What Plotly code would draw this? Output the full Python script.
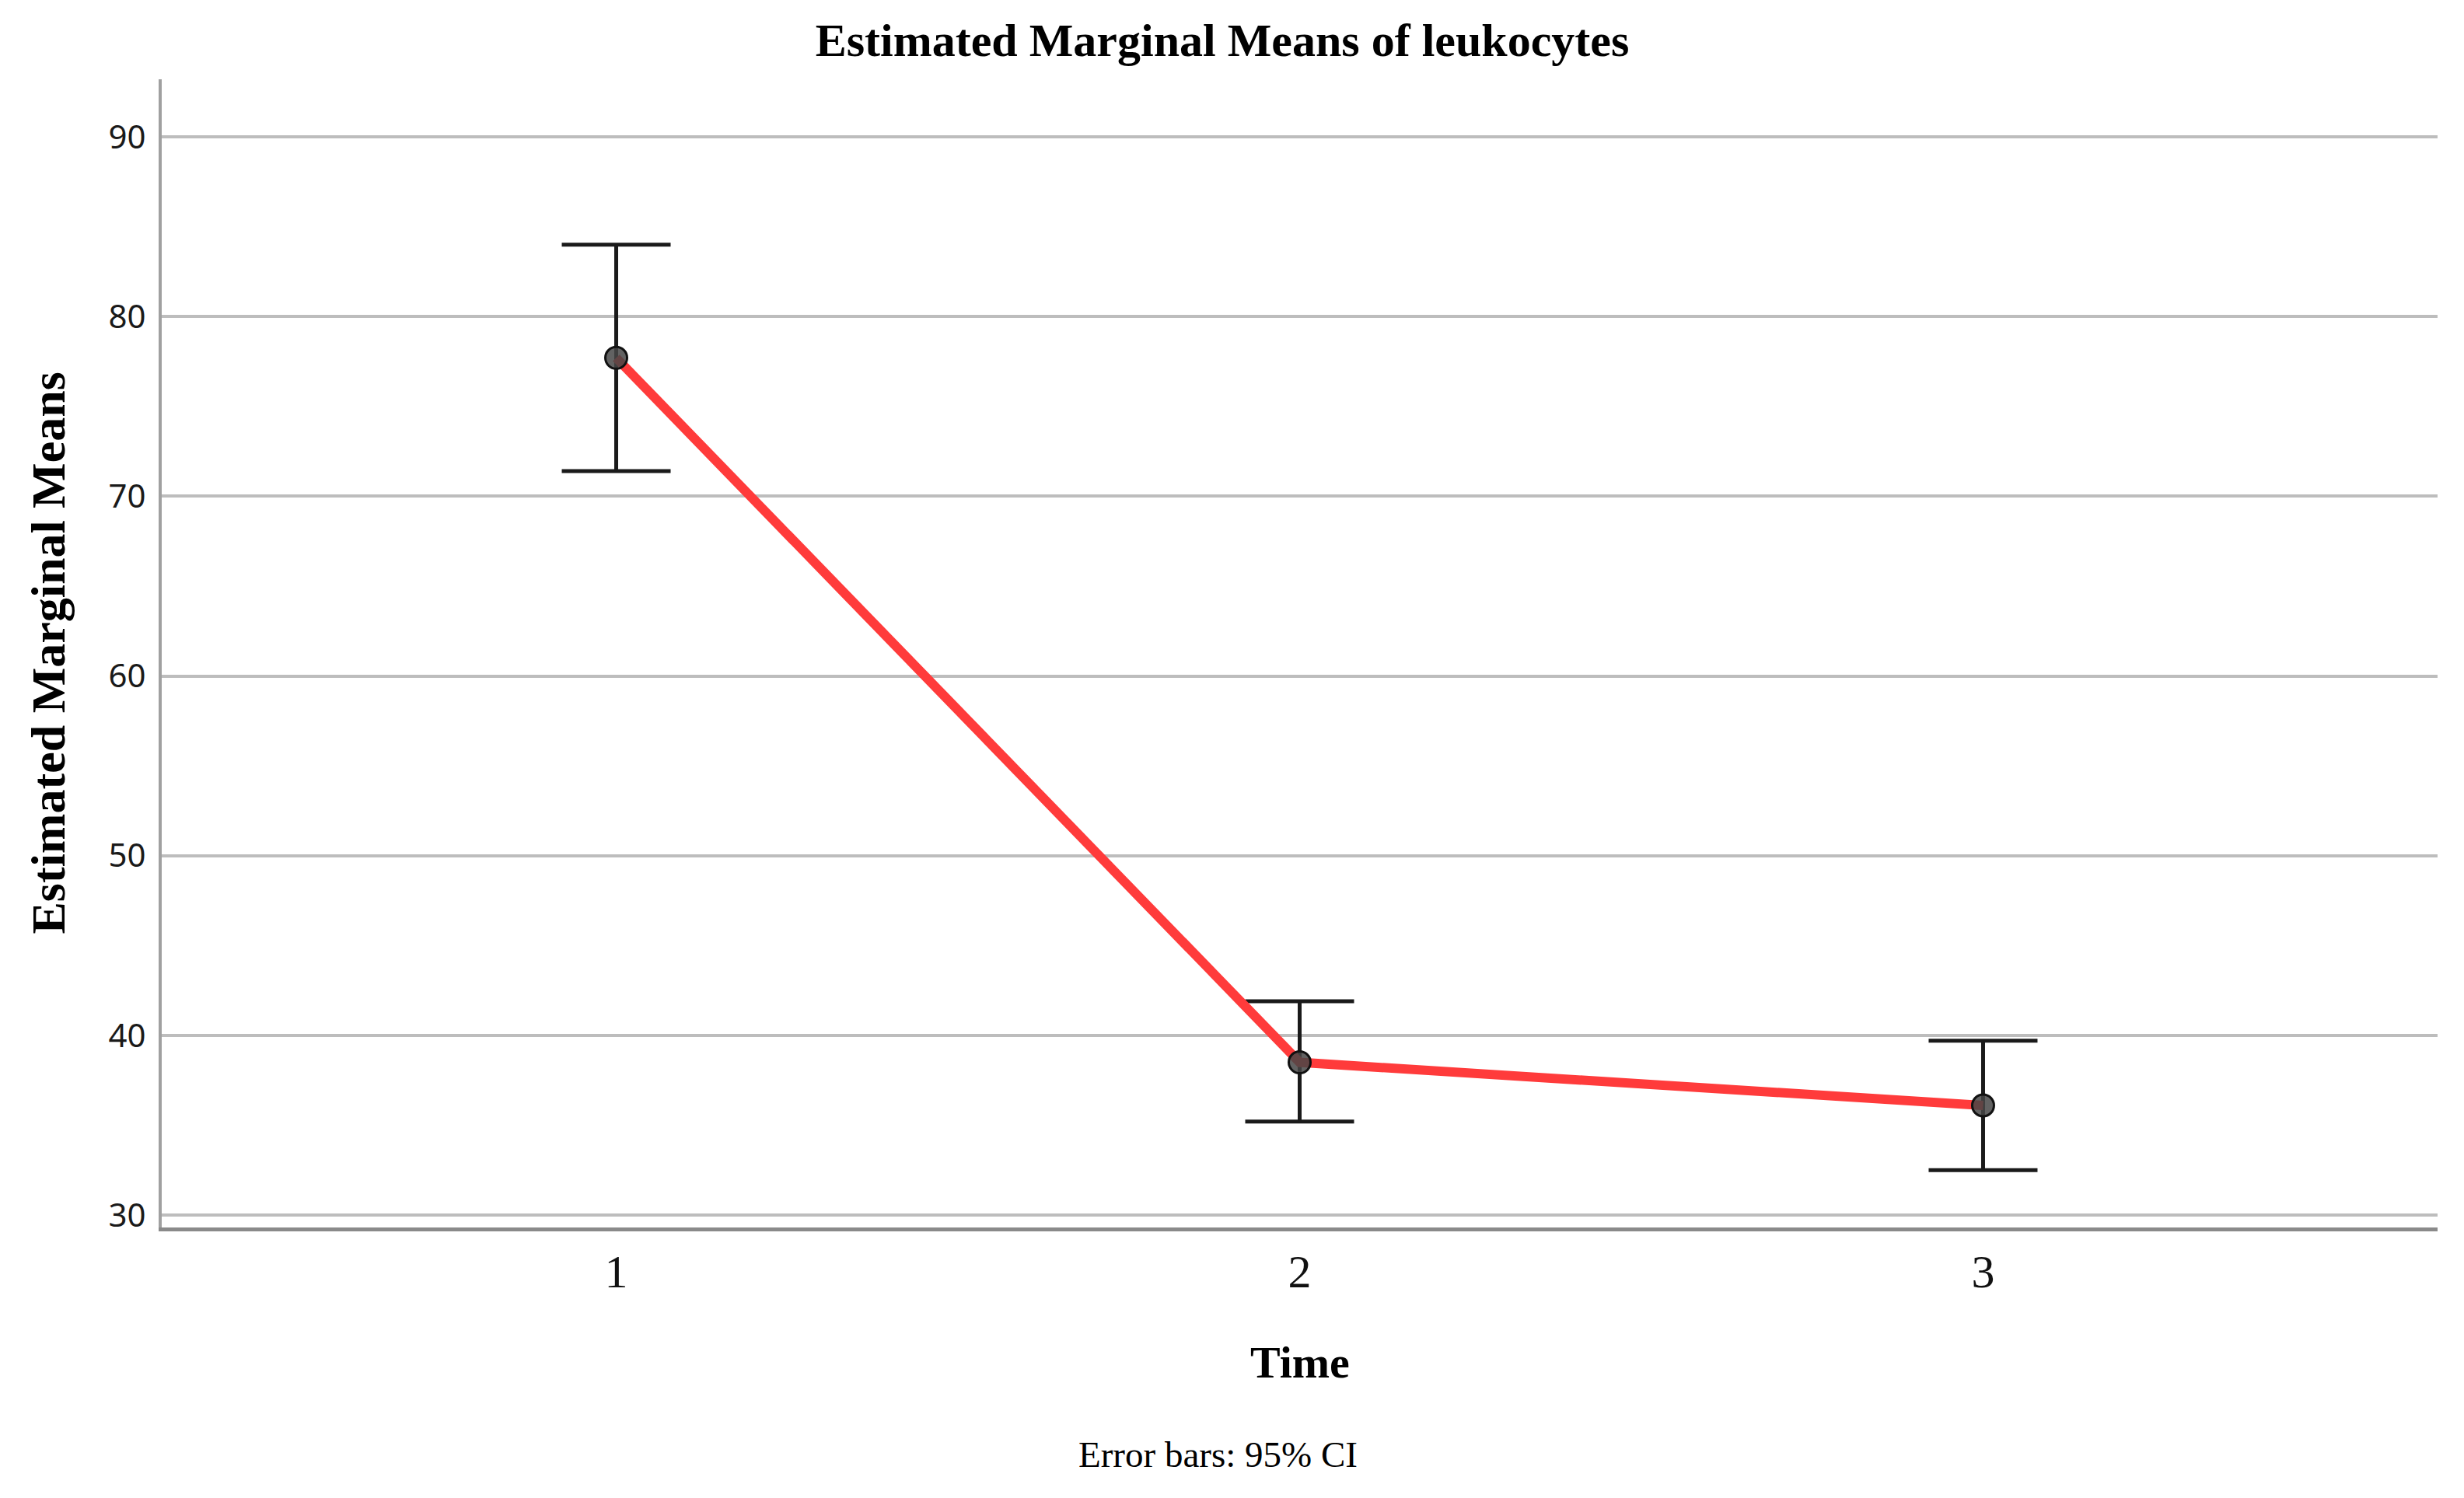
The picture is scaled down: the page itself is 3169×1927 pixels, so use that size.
import plotly.graph_objects as go

# Data
time_points = [1, 2, 3]
tick_labels = ["1", "2", "3"]
means = [77.7, 38.5, 36.1]
ci_upper = [84.0, 41.9, 39.7]
ci_lower = [71.4, 35.2, 32.5]

err_plus = [u - m for u, m in zip(ci_upper, means)]
err_minus = [m - l for m, l in zip(means, ci_lower)]

# page body has an 8px margin, so the figure is placed at (8, 8)
OFF = 8
W, H = 3169 - 2 * OFF, 1927 - 2 * OFF
L = 208 - OFF
T = 102 - OFF
R = W - (3135 - OFF)
B = H - (1579 - OFF)
PW, PH = W - L - R, H - T - B

fig = go.Figure()

# error bars
fig.add_trace(go.Scatter(
    x=time_points, y=means, mode="markers",
    marker=dict(size=1, color="rgba(0,0,0,0)"),
    error_y=dict(type="data", symmetric=False, array=err_plus, arrayminus=err_minus,
                 color="#1a1a1a", thickness=5, width=70),
    showlegend=False, hoverinfo="skip"))

# red line
fig.add_trace(go.Scatter(
    x=time_points, y=means, mode="lines",
    line=dict(color="#ff3b3b", width=12),
    showlegend=False))

# markers
fig.add_trace(go.Scatter(
    x=time_points, y=means, mode="markers",
    marker=dict(size=28, color="rgba(70,70,70,0.85)", line=dict(color="#111111", width=3)),
    showlegend=False))

serif = "Liberation Serif, Times New Roman, serif"

fig.update_layout(
    width=W, height=H,
    margin=dict(l=L, r=R, t=T, b=B, pad=0),
    paper_bgcolor="white", plot_bgcolor="white",
    title=dict(text="<b>Estimated Marginal Means of leukocytes</b>",
               font=dict(family=serif, size=60, color="black"),
               x=(1572 - OFF) / W, xref="container", xanchor="center",
               y=1 - (51 - OFF) / H, yref="container", yanchor="middle"),
    xaxis=dict(range=[0.335, 3.665], tickmode="array", tickvals=time_points, ticktext=tick_labels,
               showgrid=False, zeroline=False, showline=True, linecolor="#8a8a8a", linewidth=5,
               ticks="", ticklabelstandoff=0,
               tickfont=dict(family=serif, size=60, color="#111111")),
    yaxis=dict(range=[29.31, 93.2], tickmode="linear", tick0=30, dtick=10,
               showgrid=True, gridcolor="#bdbdbd", gridwidth=3.5,
               zeroline=False, showline=True, linecolor="#a0a0a0", linewidth=4,
               ticks="", ticklabelstandoff=8,
               tickfont=dict(family="Noto Sans, Segoe UI, sans-serif", size=42, color="#1a1a1a")),
    annotations=[
        dict(text="<b>Estimated Marginal Means</b>", xref="paper", yref="paper",
             x=(61 - 208) / PW, y=0.5, textangle=-90, showarrow=False,
             xanchor="center", yanchor="middle",
             font=dict(family=serif, size=62, color="black")),
        dict(text="<b>Time</b>", xref="paper", yref="paper",
             x=0.5, y=(1579 - 1752) / PH, showarrow=False,
             xanchor="center", yanchor="middle",
             font=dict(family=serif, size=58, color="black")),
        dict(text="Error bars: 95% CI", xref="paper", yref="paper",
             x=(1566 - 208) / PW, y=(1579 - 1871) / PH, showarrow=False,
             xanchor="center", yanchor="middle",
             font=dict(family=serif, size=47, color="black")),
    ],
)

fig.write_html("out.html")
